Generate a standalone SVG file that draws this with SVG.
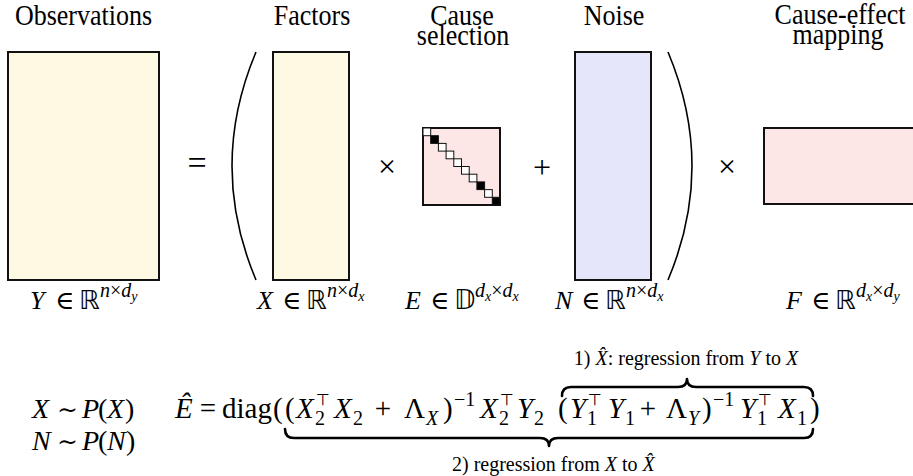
<svg xmlns="http://www.w3.org/2000/svg" width="913" height="476" viewBox="0 0 913 476">
<style>
text{font-family:"Liberation Serif","DejaVu Serif",serif;fill:#000}
.h{font-size:26px;text-anchor:middle}
.it{font-style:italic}
.mat{stroke:#111;stroke-width:2}
.yel{fill:#fef9e3}
.blu{fill:#e6e6fb}
.red{fill:#fde6e6}
.cw{fill:#fff;stroke:#111;stroke-width:1}
.ck{fill:#000;stroke:#111;stroke-width:1}
.par{fill:none;stroke:#000;stroke-width:1.6}
.op{text-anchor:middle}
.lb{font-size:26px}
.sy{font-family:"DejaVu Serif",serif}
.bb{font-family:"DejaVu Sans",sans-serif}
.sp{font-size:20px}
.ss{font-size:14px}
.eq{font-size:29px}
.sc{font-size:20px}
.tp{font-size:16px;font-family:"DejaVu Sans",sans-serif}
.br{fill:none;stroke:#000;stroke-width:2.6;stroke-linejoin:round;stroke-linecap:round}
.bl{font-size:20px}
</style>
<rect width="913" height="476" fill="#fff"/>

<g id="observations">
<text class="h" font-family="Liberation Serif, Times New Roman, serif" transform="translate(83.5,25) scale(1,1.1)">Observations</text>
<rect class="mat yel" x="8" y="52" width="151" height="228"/>
<text class="lb" y="309"><tspan x="30" class="it">Y</tspan><tspan x="55" class="sy">∈</tspan><tspan x="79" class="bb">ℝ</tspan><tspan x="100" y="297" class="sp it">n</tspan><tspan class="sp">×</tspan><tspan class="sp it">d</tspan><tspan class="ss it" dy="4">y</tspan></text>
</g>

<g id="equals"><text class="op" x="197" y="174" font-size="34">=</text></g>

<g id="paren-left"><path class="par" d="M256 52 Q208 166 256 280"/></g>

<g id="factors">
<text class="h" font-family="Liberation Serif, Times New Roman, serif" transform="translate(312,25) scale(1,1.1)">Factors</text>
<rect class="mat yel" x="273" y="52" width="76" height="228"/>
<text class="lb" y="309"><tspan x="257" class="it">X</tspan><tspan x="282" class="sy">∈</tspan><tspan x="306" class="bb">ℝ</tspan><tspan x="327" y="297" class="sp it">n</tspan><tspan class="sp">×</tspan><tspan class="sp it">d</tspan><tspan class="ss it" dy="4">x</tspan></text>
</g>

<g id="times-1"><text class="op" x="387" y="177" font-size="32">×</text></g>

<g id="cause-selection">
<text class="h" font-family="Liberation Serif, Times New Roman, serif" transform="translate(462,25) scale(1,1.1)">Cause</text>
<text class="h" font-family="Liberation Serif, Times New Roman, serif" transform="translate(463,45) scale(1,1.1)">selection</text>
<rect class="mat red" x="423" y="128" width="77" height="77"/>
<rect class="cw" x="423" y="128" width="7.7" height="7.7"/>
<rect class="ck" x="430.7" y="135.7" width="7.7" height="7.7"/>
<rect class="cw" x="438.4" y="143.4" width="7.7" height="7.7"/>
<rect class="cw" x="446.1" y="151.1" width="7.7" height="7.7"/>
<rect class="cw" x="453.8" y="158.8" width="7.7" height="7.7"/>
<rect class="cw" x="461.5" y="166.5" width="7.7" height="7.7"/>
<rect class="cw" x="469.2" y="174.2" width="7.7" height="7.7"/>
<rect class="ck" x="476.9" y="181.9" width="7.7" height="7.7"/>
<rect class="cw" x="484.6" y="189.6" width="7.7" height="7.7"/>
<rect class="ck" x="492.3" y="197.3" width="7.7" height="7.7"/>
<text class="lb" y="309"><tspan x="405" class="it">E</tspan><tspan x="430" class="sy">∈</tspan><tspan x="454" class="bb">𝔻</tspan><tspan x="475" y="297" class="sp it">d</tspan><tspan class="ss it" dy="4">x</tspan><tspan class="sp" dy="-4">×</tspan><tspan class="sp it">d</tspan><tspan class="ss it" dy="4">x</tspan></text>
</g>

<g id="plus"><text class="op" x="542" y="178" font-size="32">+</text></g>

<g id="noise">
<text class="h" font-family="Liberation Serif, Times New Roman, serif" transform="translate(614,25) scale(1,1.1)">Noise</text>
<rect class="mat blu" x="575" y="52" width="76" height="228"/>
<text class="lb" y="309"><tspan x="555" class="it">N</tspan><tspan x="581" class="sy">∈</tspan><tspan x="605" class="bb">ℝ</tspan><tspan x="626" y="297" class="sp it">n</tspan><tspan class="sp">×</tspan><tspan class="sp it">d</tspan><tspan class="ss it" dy="4">x</tspan></text>
</g>

<g id="paren-right"><path class="par" d="M668 52 Q716 166 668 280"/></g>

<g id="times-2"><text class="op" x="727" y="177" font-size="32">×</text></g>

<g id="cause-effect">
<text class="h" font-family="Liberation Serif, Times New Roman, serif" transform="translate(840,24) scale(1,1.1)">Cause-effect</text>
<text class="h" font-family="Liberation Serif, Times New Roman, serif" transform="translate(838,44) scale(1,1.1)">mapping</text>
<rect class="mat red" x="764" y="128" width="160" height="76"/>
<text class="lb" y="309"><tspan x="786" class="it">F</tspan><tspan x="811" class="sy">∈</tspan><tspan x="835" class="bb">ℝ</tspan><tspan x="856" y="297" class="sp it">d</tspan><tspan class="ss it" dy="4">x</tspan><tspan class="sp" dy="-4">×</tspan><tspan class="sp it">d</tspan><tspan class="ss it" dy="4">y</tspan></text>
</g>

<g id="priors">
<text font-size="28" y="418"><tspan x="32" class="it">X</tspan><tspan x="57" class="sy" font-size="25">∼</tspan><tspan x="82" class="it">P</tspan><tspan x="98">(</tspan><tspan x="107" class="it">X</tspan><tspan x="125">)</tspan></text>
<text font-size="28" y="450"><tspan x="32" class="it">N</tspan><tspan x="57" class="sy" font-size="25">∼</tspan><tspan x="82" class="it">P</tspan><tspan x="98">(</tspan><tspan x="107" class="it">N</tspan><tspan x="126">)</tspan></text>
</g>

<g id="equation">
<text x="175" y="418" class="eq it">Ê</text>
<text x="208" y="418" class="eq op">=</text>
<text x="222" y="418" class="eq">diag</text>
<text x="273" y="418" class="eq">(</text>
<text x="285" y="418" class="eq">(</text>
<text x="296" y="418" class="eq it">X</text>
<text x="315" y="425" class="sc">2</text>
<text x="316" y="405" class="tp">⊤</text>
<text x="334" y="418" class="eq it">X</text>
<text x="353" y="425" class="sc">2</text>
<text x="383" y="418" class="eq op">+</text>
<text x="404" y="418" class="eq">Λ</text>
<text x="426" y="425" class="sc it">X</text>
<text x="443" y="418" class="eq">)</text>
<text x="454" y="406" class="sc">−1</text>
<text x="480" y="418" class="eq it">X</text>
<text x="499" y="425" class="sc">2</text>
<text x="500" y="405" class="tp">⊤</text>
<text x="517" y="418" class="eq it">Y</text>
<text x="534" y="425" class="sc">2</text>
<text x="558" y="418" class="eq">(</text>
<text x="570" y="418" class="eq it">Y</text>
<text x="587" y="425" class="sc">1</text>
<text x="588" y="405" class="tp">⊤</text>
<text x="608" y="418" class="eq it">Y</text>
<text x="625" y="425" class="sc">1</text>
<text x="648" y="418" class="eq op">+</text>
<text x="666" y="418" class="eq">Λ</text>
<text x="688" y="425" class="sc it">Y</text>
<text x="702" y="418" class="eq">)</text>
<text x="713" y="406" class="sc">−1</text>
<text x="740" y="418" class="eq it">Y</text>
<text x="757" y="425" class="sc">1</text>
<text x="758" y="405" class="tp">⊤</text>
<text x="778" y="418" class="eq it">X</text>
<text x="797" y="425" class="sc">1</text>
<text x="810" y="418" class="eq">)</text>
</g>

<g id="braces">
<path class="br" d="M562 396 Q562 387 571 387 L678 387 Q687 387 687 379 Q687 387 696 387 L804 387 Q813 387 813 396"/>
<path class="br" d="M285 429 Q285 438 294 438 L540 438 Q549 438 549 446 Q549 438 558 438 L804 438 Q813 438 813 429"/>
<text class="bl" x="686" y="365" text-anchor="middle">1) <tspan class="it">X̂</tspan>: regression from <tspan class="it">Y</tspan> to <tspan class="it">X</tspan></text>
<text class="bl" x="452" y="471">2) regression from <tspan class="it">X</tspan> to <tspan class="it">X̂</tspan></text>
</g>
</svg>
